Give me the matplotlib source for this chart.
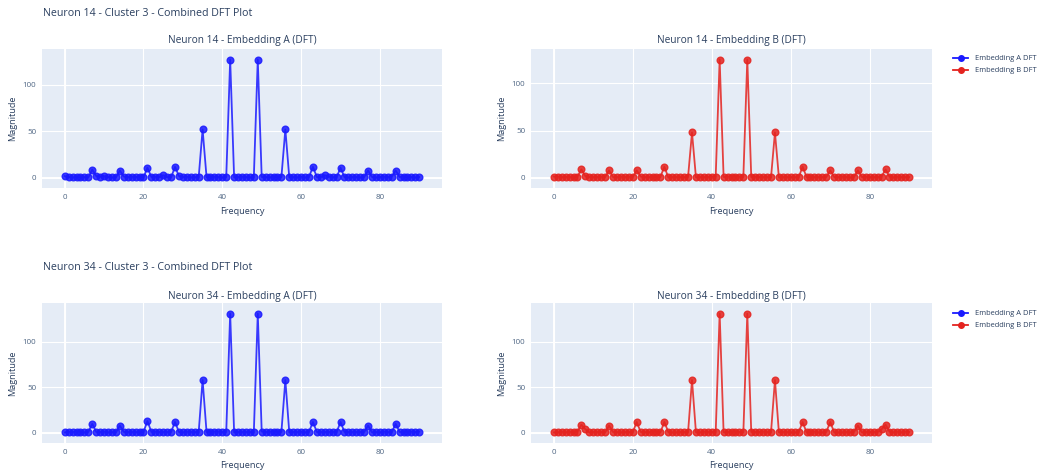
import matplotlib
matplotlib.use("Agg")
import matplotlib.pyplot as plt
from matplotlib.lines import Line2D

plt.rcParams['font.family'] = ['Open Sans', 'DejaVu Sans']

freq = list(range(91))

n14_a = [2, 1, 0.5, 1, 0.5, 1, 0.5, 9, 2, 1.5, 2, 1, 0.5, 0.5, 8, 1.5, 1, 1.5, 1, 1.5,
         0.5, 11, 1, 1.5, 1, 3, 1, 0.5, 12, 2, 1, 1.5, 0.5, 1, 0.5, 52, 1, 0.5, 1.5, 1,
         0.5, 1, 127, 0.5, 1, 1.5, 1, 0.5, 0.5, 127, 1, 1, 0.5, 1.5, 0.5, 1, 52, 0.5, 1, 0.5,
         1.5, 0.5, 1, 12, 1, 1, 3, 1.5, 1, 0.5, 11, 1, 0.5, 1, 1, 0.5, 1, 8, 1, 0.5,
         1, 1.5, 1, 1.5, 8, 1, 1.5, 0.5, 1, 0.5, 1]
n14_b = [1.5, 1.5, 1, 1, 1.5, 0.5, 1.5, 9, 2, 1, 1, 1, 1.5, 1, 8, 1, 1, 1.5, 1, 1.5,
         1, 8, 1.5, 1, 1, 1, 1, 1, 12, 0.5, 1, 1, 1, 1, 1, 48, 0.5, 1, 1, 1,
         1.5, 1.5, 125, 1, 1.5, 1.5, 1.5, 1.5, 1, 125, 1, 1.5, 1, 1, 1, 0.5, 48, 0.5, 1, 1,
         1, 1, 0.5, 12, 1, 1, 1, 1, 1, 1, 8, 1, 1, 1.5, 1, 0.5, 1, 8, 1, 1.5,
         1, 1, 1, 1.5, 9, 1.5, 0.5, 1.5, 1, 1, 1]
n34_a = [0.5, 1.5, 1, 1.5, 1, 0.5, 1, 10, 1, 1, 1.5, 0.5, 1, 0.5, 8, 1, 1, 1, 1, 0.5,
         1, 13, 1, 1.5, 1, 1, 1, 1, 12, 1, 0.5, 1.5, 1, 1, 0.5, 58, 1, 1, 1.5, 1.5,
         1, 1, 131, 0.5, 1, 1, 1, 1, 0.5, 131, 1.5, 1, 1.5, 1.5, 1, 1, 58, 0.5, 1, 1,
         1.5, 0.5, 1, 12, 1, 1, 1, 1, 1.5, 0.5, 12, 1, 1, 1, 1, 1, 1, 8, 0.5, 1,
         0.5, 1.5, 1, 0.5, 10, 1, 1, 1, 1.5, 1, 1.5]
n34_b = [0.5, 0.5, 1.5, 0.5, 1.5, 0.5, 1.5, 9, 4, 0.5, 1, 1, 1, 0.5, 8, 1, 1, 0.5, 1, 1,
         0.5, 12, 1, 1, 0.5, 1.5, 1, 0.5, 12, 1, 0.5, 0.5, 1, 1, 0.5, 58, 0.5, 0.5, 1.5, 1,
         1, 1, 131, 0.5, 1, 1, 1, 1, 0.5, 131, 1, 1, 1, 1.5, 1, 0.5, 58, 0.5, 1, 1,
         0.5, 0.5, 0.5, 12, 0.5, 1, 1.5, 0.5, 0.5, 1, 12, 0.5, 0.5, 0.5, 1, 0.5, 1, 8, 0.5, 1,
         1, 1, 1, 4, 9, 1.5, 0.5, 1.5, 0.5, 1.5, 1]

fig_titles = ["Neuron 14 - Cluster 3 - Combined DFT Plot", "Neuron 34 - Cluster 3 - Combined DFT Plot"]
sub_titles = [["Neuron 14 - Embedding A (DFT)", "Neuron 14 - Embedding B (DFT)"],
              ["Neuron 34 - Embedding A (DFT)", "Neuron 34 - Embedding B (DFT)"]]
series = [[n14_a, n14_b], [n34_a, n34_b]]
legend_labels = ["Embedding A DFT", "Embedding B DFT"]
colors = ["#1a1aff", "#e4231f"]

W, H = 1039, 473
fig = plt.figure(figsize=(W / 100, H / 100), dpi=100)

TXT = "#2a3f5f"
TICK = "#506784"
BG = "#E5ECF6"

def fx(px):
    return px / W

def fy(py):
    return 1 - py / H

row_geom = [(49, 188), (303, 443)]
col_geom = [(42, 442), (531, 932)]
title_y = [14, 268]
sub_y = [41, 296]
xlab_y = [212, 465]
leg_y = [(58, 70), (313, 325)]

for r in range(2):
    top, bot = row_geom[r]
    fig.text(fx(43), fy(title_y[r]), fig_titles[r], fontsize=7.7, color=TXT, va='center', ha='left')
    for c in range(2):
        l, rr = col_geom[c]
        ax = fig.add_axes([fx(l), fy(bot), fx(rr - l), (bot - top) / H])
        ax.set_facecolor(BG)
        ax.plot(freq, series[r][c], color=colors[c], lw=1.3, alpha=0.85,
                marker='o', ms=4.8, mec=colors[c], mfc=colors[c], zorder=3)
        ax.margins(x=0.064, y=0.089)
        ax.set_xticks([0, 20, 40, 60, 80])
        ax.set_yticks([0, 50, 100])
        ax.grid(True, color='white', lw=0.8, zorder=0)
        ax.axhline(0, color='white', lw=1.4, zorder=1)
        ax.axvline(0, color='white', lw=1.4, zorder=1)
        ax.set_axisbelow(True)
        for s in ax.spines.values():
            s.set_visible(False)
        ax.tick_params(length=0, labelsize=5.8, labelcolor=TICK, pad=4)
        fig.text(fx((l + rr) / 2), fy(sub_y[r]), sub_titles[r][c], fontsize=7.3, color=TXT,
                 ha='center', va='center')
        fig.text(fx((l + rr) / 2), fy(xlab_y[r]), "Frequency", fontsize=6.6, color=TXT,
                 ha='center', va='center')
        fig.text(fx(13 if c == 0 else 502), fy((top + bot) / 2), "Magnitude", fontsize=6.6,
                 color=TXT, rotation=90, ha='center', va='center')
    for k in range(2):
        yy = fy(leg_y[r][k])
        fig.add_artist(Line2D([fx(953), fx(968)], [yy, yy], color=colors[k], lw=1.3,
                              transform=fig.transFigure))
        fig.add_artist(Line2D([fx(960.5)], [yy], color=colors[k], marker='o', ms=4,
                              transform=fig.transFigure))
        fig.text(fx(975), yy, legend_labels[k], fontsize=5.4, color=TXT, va='center', ha='left')

fig.savefig("out.png", dpi=100, facecolor='white')
